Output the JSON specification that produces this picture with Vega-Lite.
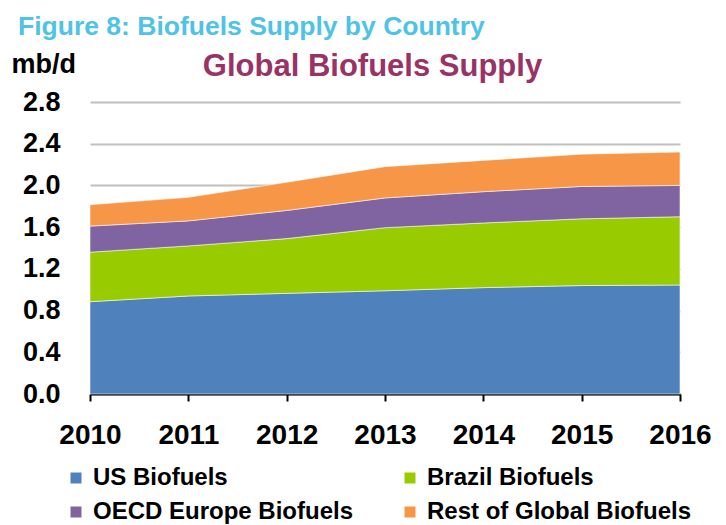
{
  "$schema": "https://vega.github.io/schema/vega-lite/v6.json",
  "width": 590,
  "height": 292,
  "autosize": "none",
  "padding": {"left": 90, "top": 102, "right": 46, "bottom": 131},
  "background": "white",
  "config": {"view": {"stroke": null}, "font": "Liberation Sans"},
  "title": {
    "text": "Figure 8: Biofuels Supply by Country",
    "anchor": "start",
    "frame": "group",
    "dx": -72,
    "offset": 10,
    "fontSize": 26.5,
    "fontWeight": "bold",
    "color": "#4FC3E6",
    "font": "Liberation Sans"
  },
  "data": {
    "values": [
      {"year": "2010", "series": "US Biofuels", "rank": 1, "value": 0.885},
      {"year": "2011", "series": "US Biofuels", "rank": 1, "value": 0.94},
      {"year": "2012", "series": "US Biofuels", "rank": 1, "value": 0.965},
      {"year": "2013", "series": "US Biofuels", "rank": 1, "value": 0.99},
      {"year": "2014", "series": "US Biofuels", "rank": 1, "value": 1.02},
      {"year": "2015", "series": "US Biofuels", "rank": 1, "value": 1.04},
      {"year": "2016", "series": "US Biofuels", "rank": 1, "value": 1.045},
      {"year": "2010", "series": "Brazil Biofuels", "rank": 2, "value": 0.475},
      {"year": "2011", "series": "Brazil Biofuels", "rank": 2, "value": 0.48},
      {"year": "2012", "series": "Brazil Biofuels", "rank": 2, "value": 0.525},
      {"year": "2013", "series": "Brazil Biofuels", "rank": 2, "value": 0.605},
      {"year": "2014", "series": "Brazil Biofuels", "rank": 2, "value": 0.62},
      {"year": "2015", "series": "Brazil Biofuels", "rank": 2, "value": 0.64},
      {"year": "2016", "series": "Brazil Biofuels", "rank": 2, "value": 0.655},
      {"year": "2010", "series": "OECD Europe Biofuels", "rank": 3, "value": 0.25},
      {"year": "2011", "series": "OECD Europe Biofuels", "rank": 3, "value": 0.24},
      {"year": "2012", "series": "OECD Europe Biofuels", "rank": 3, "value": 0.27},
      {"year": "2013", "series": "OECD Europe Biofuels", "rank": 3, "value": 0.285},
      {"year": "2014", "series": "OECD Europe Biofuels", "rank": 3, "value": 0.30},
      {"year": "2015", "series": "OECD Europe Biofuels", "rank": 3, "value": 0.31},
      {"year": "2016", "series": "OECD Europe Biofuels", "rank": 3, "value": 0.30},
      {"year": "2010", "series": "Rest of Global Biofuels", "rank": 4, "value": 0.205},
      {"year": "2011", "series": "Rest of Global Biofuels", "rank": 4, "value": 0.226},
      {"year": "2012", "series": "Rest of Global Biofuels", "rank": 4, "value": 0.27},
      {"year": "2013", "series": "Rest of Global Biofuels", "rank": 4, "value": 0.30},
      {"year": "2014", "series": "Rest of Global Biofuels", "rank": 4, "value": 0.30},
      {"year": "2015", "series": "Rest of Global Biofuels", "rank": 4, "value": 0.31},
      {"year": "2016", "series": "Rest of Global Biofuels", "rank": 4, "value": 0.32}
    ]
  },
  "mark": {"type": "area", "stroke": "white", "strokeWidth": 0.8, "strokeOpacity": 0.7},
  "encoding": {
    "x": {
      "field": "year",
      "type": "ordinal",
      "scale": {"type": "point", "padding": 0},
      "axis": {
        "labelAngle": 0,
        "labelFontSize": 28,
        "labelFontWeight": "bold",
        "labelColor": "black",
        "labelPadding": 20,
        "domainColor": "black",
        "domainWidth": 2,
        "tickColor": "black",
        "tickWidth": 2,
        "tickSize": 7,
        "grid": false,
        "title": "Global Biofuels Supply",
        "titleFontSize": 31,
        "titleFontWeight": "bold",
        "titleColor": "#993366",
        "titleX": 282,
        "titleY": -319,
        "titleAlign": "center",
        "titleBaseline": "alphabetic"
      }
    },
    "y": {
      "field": "value",
      "type": "quantitative",
      "stack": "zero",
      "scale": {"domain": [0, 2.8], "nice": false},
      "axis": {
        "values": [0, 0.4, 0.8, 1.2, 1.6, 2.0, 2.4, 2.8],
        "format": ".1f",
        "labelFontSize": 27,
        "labelFontWeight": "bold",
        "labelColor": "black",
        "labelPadding": 30,
        "ticks": false,
        "domain": false,
        "grid": true,
        "gridColor": "#C0C0C0",
        "gridWidth": 2,
        "title": "mb/d",
        "titleAngle": 0,
        "titleFontSize": 27,
        "titleFontWeight": "bold",
        "titleColor": "black",
        "titleX": -79,
        "titleY": -30,
        "titleAlign": "left",
        "titleBaseline": "alphabetic"
      }
    },
    "color": {
      "field": "series",
      "type": "nominal",
      "sort": ["US Biofuels", "Brazil Biofuels", "OECD Europe Biofuels", "Rest of Global Biofuels"],
      "scale": {
        "domain": ["US Biofuels", "Brazil Biofuels", "OECD Europe Biofuels", "Rest of Global Biofuels"],
        "range": ["#4F81BD", "#99CC00", "#8064A2", "#F79646"]
      },
      "legend": {
        "orient": "none",
        "legendX": -26,
        "legendY": 364,
        "padding": 0,
        "columns": 2,
        "direction": "horizontal",
        "title": null,
        "symbolType": "square",
        "symbolSize": 121,
        "symbolStrokeWidth": 0,
        "labelFontSize": 24,
        "labelFontWeight": "bold",
        "labelColor": "black",
        "labelOffset": 5,
        "labelLimit": 400,
        "columnPadding": 44,
        "rowPadding": 10
      }
    },
    "order": {"field": "rank", "type": "quantitative", "sort": "ascending"}
  }
}
